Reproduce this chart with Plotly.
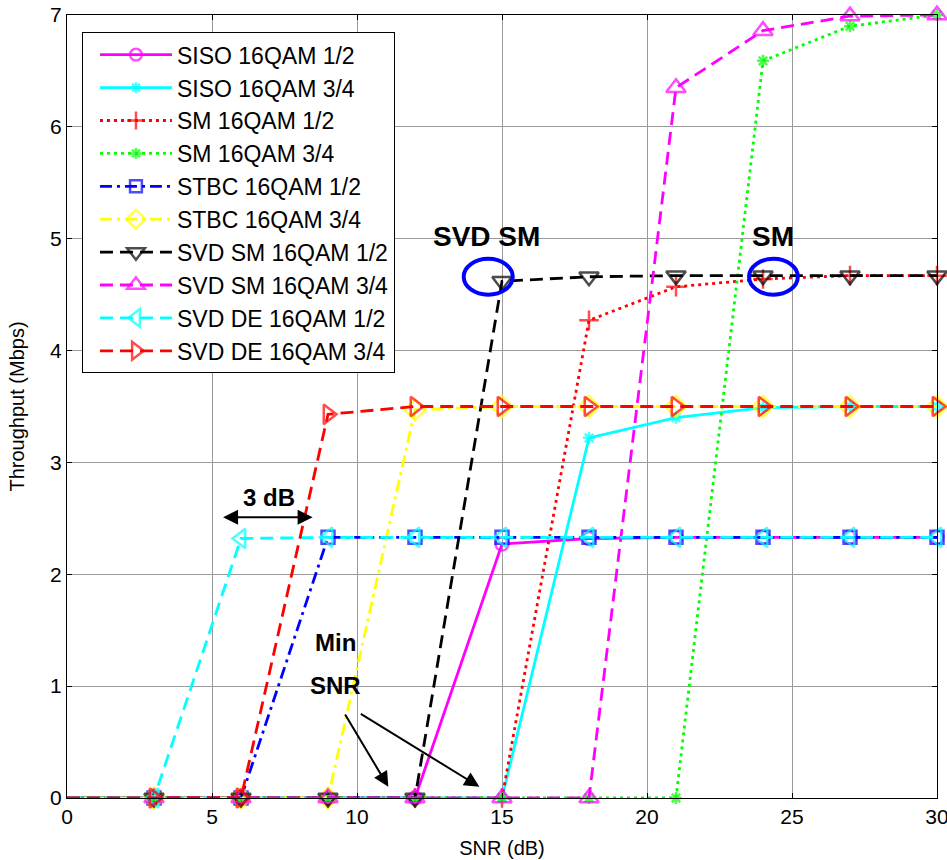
import plotly.graph_objects as go

# ---------------- data ----------------
snr = [0, 3, 6, 9, 12, 15, 18, 21, 24, 27, 30]

siso_16qam_12 = [0, 0, 0, 0, 0, 2.27, 2.32, 2.33, 2.33, 2.33, 2.33]
siso_16qam_34 = [0, 0, 0, 0, 0, 0, 3.22, 3.40, 3.49, 3.50, 3.50]
sm_16qam_12 = [0, 0, 0, 0, 0, 0, 4.27, 4.57, 4.64, 4.67, 4.67]
sm_16qam_34 = [0, 0, 0, 0, 0, 0, 0, 0, 6.59, 6.90, 7.00]
stbc_16qam_12 = [0, 0, 0, 2.33, 2.33, 2.33, 2.33, 2.33, 2.33, 2.33, 2.33]
stbc_16qam_34 = [0, 0, 0, 0, 3.47, 3.50, 3.50, 3.50, 3.50, 3.50, 3.50]
svd_sm_16qam_12 = [0, 0, 0, 0, 0, 4.62, 4.66, 4.67, 4.67, 4.67, 4.67]
svd_sm_16qam_34 = [0, 0, 0, 0, 0, 0, 0, 6.35, 6.86, 6.99, 7.00]
svd_de_16qam_12 = [0, 0, 2.32, 2.33, 2.33, 2.33, 2.33, 2.33, 2.33, 2.33, 2.33]
svd_de_16qam_34 = [0, 0, 0, 3.43, 3.50, 3.50, 3.50, 3.50, 3.50, 3.50, 3.50]

series_names = [
    "SISO 16QAM 1/2", "SISO 16QAM 3/4", "SM 16QAM 1/2", "SM 16QAM 3/4",
    "STBC 16QAM 1/2", "STBC 16QAM 3/4", "SVD SM 16QAM 1/2", "SVD SM 16QAM 3/4",
    "SVD DE 16QAM 1/2", "SVD DE 16QAM 3/4",
]
series_values = [
    siso_16qam_12, siso_16qam_34, sm_16qam_12, sm_16qam_34,
    stbc_16qam_12, stbc_16qam_34, svd_sm_16qam_12, svd_sm_16qam_34,
    svd_de_16qam_12, svd_de_16qam_34,
]

x_ticks = [0, 5, 10, 15, 20, 25, 30]
y_ticks = [0, 1, 2, 3, 4, 5, 6, 7]

# ---------------- styles ----------------
DASHED = "13px,7px"
DOTTED = "3px,4px"
DASHDOT = "12px,5px,3px,5px"
styles = [
    dict(color="#FF00FF", dash="solid", symbol="circle-open", size=13),
    dict(color="#00FFFF", dash="solid", symbol="asterisk-open", size=10),
    dict(color="#FF0000", dash=DOTTED, symbol="cross-thin-open", size=14),
    dict(color="#00FF00", dash=DOTTED, symbol="asterisk-open", size=10),
    dict(color="#0000FF", dash=DASHDOT, symbol="square-open", size=13),
    dict(color="#FFFF00", dash=DASHDOT, symbol="diamond-open", size=16),
    dict(color="#000000", dash=DASHED, symbol="triangle-down-open", size=17),
    dict(color="#FF00FF", dash=DASHED, symbol="triangle-up-open", size=17),
    dict(color="#00FFFF", dash=DASHED, symbol="triangle-left-open", size=17),
    dict(color="#FF0000", dash=DASHED, symbol="triangle-right-open", size=17),
]

fig = go.Figure()
for name, vals, st in zip(series_names, series_values, styles):
    sizes = [0] + [st["size"]] * (len(snr) - 1)
    fig.add_trace(go.Scatter(
        x=snr, y=vals, name=name, mode="lines+markers",
        line=dict(color=st["color"], width=2.8, dash=st["dash"]),
        marker=dict(symbol=st["symbol"], size=sizes, color=st["color"],
                    line=dict(color=st["color"], width=2.5)),
        cliponaxis=False,
    ))

FONT = "Liberation Sans, Arial, sans-serif"

# ---------------- annotations ----------------
ann = []
def label(x, y, text, size):
    ann.append(dict(x=x, y=y, xref="x", yref="y", text="<b>%s</b>" % text,
                    showarrow=False, font=dict(family=FONT, size=size, color="black"),
                    xanchor="center", yanchor="middle"))

label(14.48, 5.02, "SVD SM", 28)
label(24.33, 5.02, "SM", 28)
label(6.95, 2.69, "3 dB", 24)
label(9.27, 1.39, "Min", 24)
label(9.27, 1.01, "SNR", 24)

def arrow(x0, y0, x1, y1, both=False):
    ann.append(dict(x=x1, y=y1, ax=x0, ay=y0, xref="x", yref="y", axref="x", ayref="y",
                    text="", showarrow=True, arrowhead=2, arrowsize=1.5, arrowwidth=2,
                    arrowcolor="black", arrowside="end+start" if both else "end",
                    standoff=0, startstandoff=0, startarrowhead=2, startarrowsize=1.5))

arrow(5.33, 2.51, 8.47, 2.51, both=True)
arrow(9.56, 0.76, 11.08, 0.10)
arrow(10.08, 0.76, 14.22, 0.10)

shapes = [
    dict(type="circle", xref="x", yref="y", x0=13.68, x1=15.37, y0=4.50, y1=4.82,
         line=dict(color="#0000FF", width=4)),
    dict(type="circle", xref="x", yref="y", x0=23.52, x1=25.20, y0=4.50, y1=4.82,
         line=dict(color="#0000FF", width=4)),
]

axis_common = dict(
    showline=True, linecolor="black", linewidth=1, mirror="ticks",
    ticks="inside", ticklen=5, tickcolor="black", automargin=False,
    ticklabeloverflow="allow",
    showgrid=True, gridcolor="#9a9a9a", gridwidth=1,
    zeroline=False, tickfont=dict(family=FONT, size=21, color="black"),
)

fig.update_layout(
    width=947, height=860,
    margin=dict(l=67, r=10, t=15, b=62),
    paper_bgcolor="white", plot_bgcolor="white",
    font=dict(family=FONT, color="black"),
    xaxis=dict(range=[0, 30], tickvals=x_ticks, ticktext=[str(v) for v in x_ticks],
               title=dict(text="SNR (dB)", font=dict(family=FONT, size=20), standoff=13),
               **axis_common),
    yaxis=dict(range=[0, 7], tickvals=y_ticks, ticktext=[str(v) for v in y_ticks],
               title=dict(text="Throughput (Mbps)", font=dict(family=FONT, size=20), standoff=20),
               **axis_common),
    legend=dict(x=0.0172, y=0.978, xanchor="left", yanchor="top",
                bgcolor="white", bordercolor="black", borderwidth=1,
                font=dict(family=FONT, size=23, color="black"),
                itemwidth=72, indentation=12),
    annotations=ann, shapes=shapes, showlegend=True,
)

# remove the browser's default 8px body margin so the figure fills the window
fig.write_html("out.html", config={"displayModeBar": False},
               post_script="document.body.style.margin='0px';")
